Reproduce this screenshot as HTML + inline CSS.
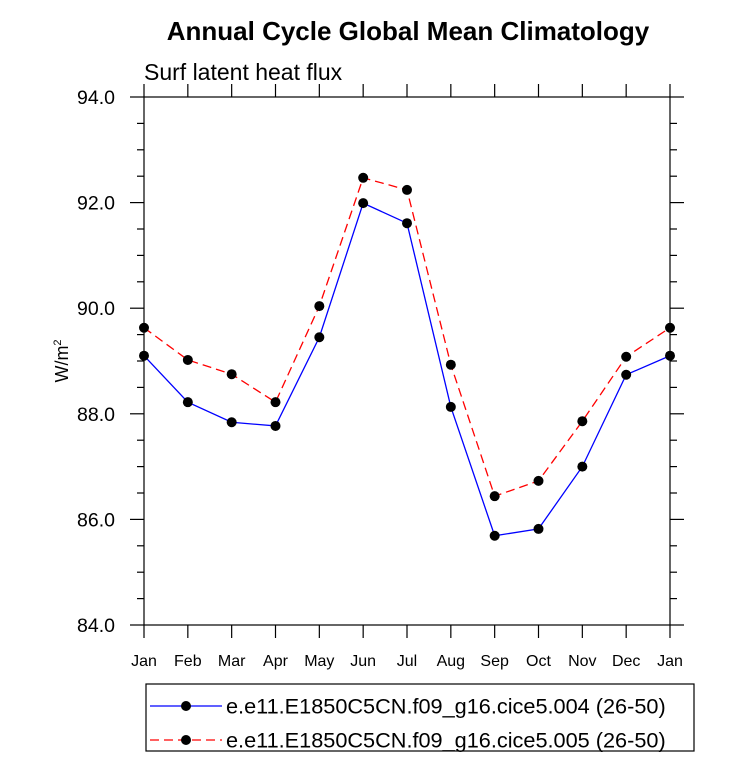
<!DOCTYPE html>
<html><head><meta charset="utf-8"><style>
html,body{margin:0;padding:0;background:#fff;}
svg text{font-family:"Liberation Sans",Arial,sans-serif;}
</style></head><body>
<svg id="chart" width="733" height="761" xmlns="http://www.w3.org/2000/svg">
<text x="408" y="40" text-anchor="middle" font-size="26" font-weight="bold">Annual Cycle Global Mean Climatology</text>
<text x="144" y="80" font-size="23">Surf latent heat flux</text>
<text transform="translate(68,361) rotate(-90)" text-anchor="middle" font-size="18">W/m<tspan dy="-7" font-size="11">2</tspan></text>
<g id="axes"></g>
<g id="series"></g>
<g id="legend"></g>
</svg>
<script>
const months = ["Jan","Feb","Mar","Apr","May","Jun","Jul","Aug","Sep","Oct","Nov","Dec","Jan"];
const series004 = [89.1,88.22,87.84,87.77,89.45,91.99,91.61,88.13,85.69,85.82,87.0,88.74,89.1];
const series005 = [89.63,89.02,88.75,88.22,90.04,92.47,92.24,88.93,86.44,86.73,87.86,89.08,89.63];
const yTicks = ["84.0","86.0","88.0","90.0","92.0","94.0"];
const seriesNames = ["e.e11.E1850C5CN.f09_g16.cice5.004 (26-50)","e.e11.E1850C5CN.f09_g16.cice5.005 (26-50)"];

const NS="http://www.w3.org/2000/svg";
const L=144,R=670,T=97,B=625,yMin=84,yMax=94;
const xs=i=>L+i*(R-L)/12;
const ys=v=>B-(v-yMin)/(yMax-yMin)*(B-T);
function mk(tag,attrs,parent){const e=document.createElementNS(NS,tag);for(const k in attrs)e.setAttribute(k,attrs[k]);parent.appendChild(e);return e;}
const axes=document.getElementById('axes');
const frame=mk('rect',{x:L,y:T,width:R-L,height:B-T,fill:'none',stroke:'#000','stroke-width':1.2},axes);


for(let v=yMin;v<=yMax+1e-9;v+=0.5){
  const y=ys(v);const major=Math.abs(v-Math.round(v/2)*2)<1e-6;
  const len=major?14:7;
  const t1=mk('line',{x1:L,x2:L-len,y1:y,y2:y,stroke:'#000','stroke-width':1.2},axes);
  
  
  const t2=mk('line',{x1:R,x2:R+len,y1:y,y2:y,stroke:'#000','stroke-width':1.2},axes);
  
  
}
yTicks.forEach(s=>{
  const t=mk('text',{x:L-29,y:ys(parseFloat(s))+7,'text-anchor':'end','font-size':19.5},axes);
  t.textContent=s;
  
  
});
months.forEach((m,i)=>{
  const x=xs(i);
  const tk=mk('line',{x1:x,x2:x,y1:B,y2:B+13,stroke:'#000','stroke-width':1.2},axes);
  
  
  const tk2=mk('line',{x1:x,x2:x,y1:T,y2:T-13,stroke:'#000','stroke-width':1.2},axes);
  
  
  const t=mk('text',{x:x,y:B+41,'text-anchor':'middle','font-size':16},axes);
  t.textContent=m;
  
  
});
const sg=document.getElementById('series');
function drawSeries(vals,color,dash,name){
  const pts=vals.map((v,i)=>xs(i)+','+ys(v)).join(' ');
  const pl=mk('polyline',{points:pts,fill:'none',stroke:color,'stroke-width':1.3,'stroke-dasharray':dash},sg);
  
  
  vals.forEach((v,i)=>{
    const c=mk('circle',{cx:xs(i),cy:ys(v),r:5,fill:'#000'},sg);
    
    
  });
}
drawSeries(series004,'#0000ff','none','series-004');
drawSeries(series005,'#ff0000','9 5','series-005');
const lg=document.getElementById('legend');
const box=mk('rect',{x:146,y:684,width:548,height:67,fill:'none',stroke:'#000','stroke-width':1.2},lg);


[['#0000ff','none',706],['#ff0000','9 5',740]].forEach((s,k)=>{
  const ln=mk('line',{x1:150,x2:222,y1:s[2],y2:s[2],stroke:s[0],'stroke-width':1.3,'stroke-dasharray':s[1]},lg);
  
  
  const c=mk('circle',{cx:186,cy:s[2],r:5,fill:'#000'},lg);
  
  
  const t=mk('text',{x:226,y:s[2]+7.5,'font-size':21.7},lg);
  t.textContent=seriesNames[k];
  
  
});
</script>
</body></html>
